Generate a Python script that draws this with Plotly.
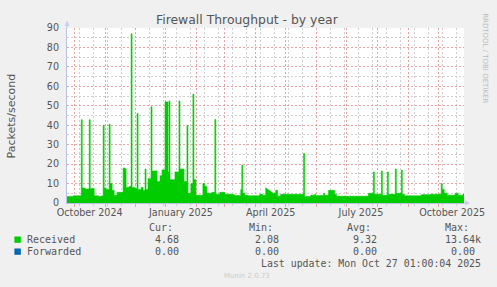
import plotly.graph_objects as go

# ---------------- data ----------------
recv_dates = [
    "2024-09-23", "2024-09-30", "2024-10-08", "2024-10-09", "2024-10-12", "2024-10-16",
    "2024-10-17", "2024-10-21", "2024-10-25", "2024-10-28", "2024-10-30", "2024-10-31",
    "2024-11-02", "2024-11-05", "2024-11-06", "2024-11-08", "2024-11-10", "2024-11-13",
    "2024-11-19", "2024-11-21", "2024-11-22", "2024-11-25", "2024-11-27", "2024-11-28",
    "2024-12-01", "2024-12-03", "2024-12-04", "2024-12-07", "2024-12-09", "2024-12-11",
    "2024-12-12", "2024-12-14", "2024-12-17", "2024-12-18", "2024-12-23", "2024-12-26",
    "2024-12-28", "2024-12-31", "2025-01-03", "2025-01-04", "2025-01-05", "2025-01-10",
    "2025-01-14", "2025-01-15", "2025-01-19", "2025-01-22", "2025-01-23", "2025-01-26",
    "2025-01-28", "2025-01-29", "2025-01-31", "2025-02-07", "2025-02-09", "2025-02-11",
    "2025-02-16", "2025-02-19", "2025-02-20", "2025-02-24", "2025-03-01", "2025-03-09",
    "2025-03-11", "2025-03-17", "2025-03-18", "2025-03-19", "2025-03-21", "2025-03-24",
    "2025-04-05", "2025-04-08", "2025-04-11", "2025-04-12", "2025-04-19", "2025-04-21",
    "2025-04-23", "2025-04-26", "2025-05-19", "2025-05-20", "2025-05-26", "2025-05-30",
    "2025-05-31", "2025-06-08", "2025-06-09", "2025-06-13", "2025-06-19", "2025-06-21",
    "2025-07-23", "2025-07-28", "2025-07-29", "2025-08-05", "2025-08-06", "2025-08-11",
    "2025-08-12", "2025-08-19", "2025-08-20", "2025-08-25", "2025-08-26", "2025-08-28",
    "2025-09-14", "2025-09-23", "2025-10-04", "2025-10-05", "2025-10-07", "2025-10-10",
    "2025-10-18", "2025-10-21", "2025-10-26", "2025-10-27",
]
recv_vals = [
    3.4, 3.7, 42.8, 7.7, 7.2, 42.8,
    7.5, 3.7, 3.4, 3.6, 40.0, 7.7,
    7.0, 40.5, 10.0, 6.5, 4.0, 5.5,
    18.0, 17.5, 8.0, 8.5, 87.0, 8.0,
    7.5, 46.0, 7.0, 8.0, 6.5, 17.5,
    7.0, 12.5, 49.5, 16.5, 11.0, 14.0,
    17.0, 52.0, 16.0, 52.5, 12.0, 16.0,
    52.5, 17.5, 11.0, 40.0, 5.0, 10.0,
    56.0, 12.0, 4.0, 10.0, 8.5, 5.0,
    5.5, 43.0, 4.5, 5.5, 4.5, 4.2,
    3.8, 7.0, 19.5, 5.0, 4.0, 3.7,
    4.5, 4.0, 8.0, None, 5.0, 6.5,
    3.5, 4.5, 25.5, 3.3, 4.0, 4.5,
    3.8, 5.0, 4.0, 6.5, 4.5, 3.5,
    5.0, 16.0, 4.5, 16.5, 4.0, 16.0,
    4.5, 17.5, 5.0, 17.0, 4.5, 3.7,
    4.3, 4.5, 10.0, 7.0, 5.0, 4.0,
    5.0, 4.0, 4.68, 4.68,
]
fwd_dates = ["2024-09-23", "2025-10-27"]
fwd_vals = [0.0, 0.0]

x_range = ["2024-09-23 17:30", "2025-10-26 20:40"]
label_dates = ["2024-10-16 12:00", "2025-01-16", "2025-04-16", "2025-07-15 12:00", "2025-10-15"]
label_text = ["October 2024", "January 2025", "April 2025", "July 2025", "October 2025"]
y_ticks = [0, 10, 20, 30, 40, 50, 60, 70, 80, 90]

legend_names = ["Received", "Forwarded"]
legend_colors = ["#00CC00", "#0066B3"]
cur_vals = ["4.68", "0.00"]
min_vals = ["2.08", "0.00"]
avg_vals = ["9.32", "0.00"]
max_vals = ["13.64k", "0.00"]

# ---------------- layout helpers ----------------
W, H = 497, 287
L, R, T, B = 67, 30, 28, 84
PW, PH = W - L - R, H - T - B


def px(x):
    return (x - L) / PW


def py(y):
    return (H - B - y) / PH


TEXT = "#555555"
MAJOR = "#EFA0A0"
MINOR = "#CFCFCF"
AXIS = "#B8C0E6"
DASH = "2px,2px"

fig = go.Figure()
fig.add_trace(go.Scatter(
    x=recv_dates, y=recv_vals, mode="lines", line=dict(shape="hv", width=0.6, color="#00CC00"),
    fill="tozeroy", fillcolor="#00CC00", connectgaps=False, name="Received", hoverinfo="skip"))
fig.add_trace(go.Scatter(
    x=fwd_dates, y=fwd_vals, mode="lines", line=dict(shape="hv", width=0, color="#0066B3"),
    fill="tozeroy", fillcolor="#0066B3", name="Forwarded", xaxis="x2", hoverinfo="skip"))

fig.update_layout(
    width=W, height=H, margin=dict(l=L, r=R, t=T, b=B, pad=0),
    paper_bgcolor="#F0F0F0", plot_bgcolor="#FFFFFF", showlegend=False,
    font=dict(family="DejaVu Sans", size=10, color=TEXT),
    xaxis=dict(
        type="date", range=x_range, showticklabels=False,
        tick0="2024-10-01", dtick="M1", ticks="outside", ticklen=3, tickcolor=MAJOR,
        showgrid=True, gridcolor=MAJOR, griddash=DASH, gridwidth=1,
        minor=dict(tick0="2024-10-06", dtick=14 * 86400000, showgrid=True, gridcolor=MINOR,
                   griddash=DASH, gridwidth=1, ticks="outside", ticklen=2, tickcolor=MINOR),
        showline=True, linecolor=AXIS, linewidth=1, zeroline=False, fixedrange=True,
    ),
    xaxis2=dict(
        type="date", range=x_range, overlaying="x", side="bottom",
        tickmode="array", tickvals=label_dates, ticktext=label_text, ticks="",
        showgrid=False, showline=False, zeroline=False, fixedrange=True,
        tickfont=dict(family="DejaVu Sans", size=9.6, color=TEXT), ticklabelstandoff=2,
    ),
    yaxis=dict(
        range=[0, 90], tickmode="array", tickvals=y_ticks, ticks="",
        tickfont=dict(family="DejaVu Sans", size=9.6, color=TEXT), ticklabelstandoff=5,
        showgrid=True, gridcolor=MAJOR, griddash=DASH, gridwidth=1,
        minor=dict(tickmode="linear", tick0=5, dtick=10, showgrid=True, gridcolor=MINOR,
                   griddash=DASH, gridwidth=1),
        showline=True, linecolor=AXIS, linewidth=1, zeroline=False, fixedrange=True,
    ),
)

shapes = []
shapes.append(dict(type="line", xref="paper", yref="paper", x0=px(67), x1=px(67), y0=py(28), y1=py(22),
                   line=dict(color=AXIS, width=1)))
shapes.append(dict(type="path", xref="paper", yref="paper",
                   path=f"M {px(64.5)},{py(26)} L {px(69.5)},{py(26)} L {px(67)},{py(20.5)} Z",
                   fillcolor="#C8CCF6", line=dict(width=0)))
shapes.append(dict(type="line", xref="paper", yref="paper", x0=px(467), x1=px(469), y0=py(203), y1=py(203),
                   line=dict(color=AXIS, width=1)))
shapes.append(dict(type="path", xref="paper", yref="paper",
                   path=f"M {px(468)},{py(200.5)} L {px(468)},{py(205.5)} L {px(473)},{py(203)} Z",
                   fillcolor="#C8CCF6", line=dict(width=0)))
for i, c in enumerate(legend_colors):
    y0 = 236.5 + 12 * i
    shapes.append(dict(type="rect", xref="paper", yref="paper", x0=px(14), x1=px(20.5),
                       y0=py(y0), y1=py(y0 + 6.3), fillcolor=c, line=dict(width=0)))
fig.update_layout(shapes=shapes)

ann = []


def txt(x, y, s, size=10, family="DejaVu Sans Mono", color=TEXT, xanchor="left", angle=0):
    ann.append(dict(x=px(x), y=py(y), xref="paper", yref="paper", text=s, showarrow=False,
                    xanchor=xanchor, yanchor="middle", textangle=angle,
                    font=dict(family=family, size=size, color=color), borderpad=0))


txt(248.5, 19.5, "Firewall Throughput - by year", size=12.4, family="DejaVu Sans", xanchor="center")
txt(11, 116, "Packets/second", size=11, family="DejaVu Sans", xanchor="center", angle=-90)
txt(488, 58, "RRDTOOL / TOBI OETIKER", size=7, family="DejaVu Sans", color="#BBBBBB",
    xanchor="center", angle=90)
txt(149, 227, "Cur:")
txt(249, 227, "Min:")
txt(348, 227, "Avg:")
txt(447, 227, "Max:")
for i, n in enumerate(legend_names):
    yy = 239.5 + 12 * i
    txt(26, yy, n)
    txt(155, yy, cur_vals[i])
    txt(255, yy, min_vals[i])
    txt(354, yy, avg_vals[i])
    txt(447 if max_vals[i].endswith("k") else 453, yy, max_vals[i])
txt(261, 263, "Last update: Mon Oct 27 01:00:04 2025", size=9.9)
txt(248, 276, "Munin 2.0.73", size=7, family="DejaVu Sans", color="#CCCCCC", xanchor="center")
fig.update_layout(annotations=ann)

fig.write_html("out.html")
